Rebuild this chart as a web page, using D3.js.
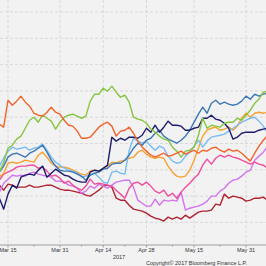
<!DOCTYPE html>
<html>
<head>
<meta charset="utf-8">
<script src="https://cdn.jsdelivr.net/npm/d3@7"></script>
<style>
  html, body { margin: 0; padding: 0; background: #f2f2f2; }
  #wrapper { width: 266px; height: 266px; overflow: hidden; }
</style>
</head>
<body>
<div id="wrapper"></div>
<script>
// trading days, Mar 13 2017 .. Jun 7 2017 (weekdays)
const startDate = new Date(2017, 2, 13)
const endDate = new Date(2017, 5, 8)

const tickDates = ["2017-03-15", "2017-03-31", "2017-04-14", "2017-04-28", "2017-05-15", "2017-05-31"]
const tickLabels = ["Mar 15", "Mar 31", "Apr 14", "Apr 28", "May 15", "May 31"]
const minorTickDates = ["2017-03-23", "2017-04-07", "2017-04-21", "2017-05-08", "2017-05-23"]
const yearLabel = "2017"
const copyright = "Copyright© 2017 Bloomberg Finance L.P."

// % change, one value per trading day
const orangeRed = [-0.53,-0.76,1.29,0.91,1.22,1.60,1.14,0.84,0.30,0.15,0.08,0.38,0.76,0.38,0.23,-0.23,-0.61,-0.68,-1.06,-1.60,-1.60,-1.52,-1.14,-0.76,-0.53,-0.38,-0.68,-1.44,-1.06,-0.99,-0.76,-1.22,-1.82,-2.28,-2.58,-2.89,-3.04,-2.89,-2.74,-2.96,-2.89,-2.74,-2.58,-2.81,-2.66,-2.51,-2.74,-2.51,-2.58,-2.36,-2.28,-2.51,-2.66,-2.43,-2.58,-2.51,-2.74,-3.04,-3.34,-2.74,-2.20,-1.75,-1.37]
const green = [-4.18,-3.42,-2.36,-2.13,-1.67,-1.44,-0.84,-0.23,0,-0.38,0.15,-0.08,-0.30,-0.91,-0.38,0,0.15,0.23,0.08,-0.08,0.08,1.22,1.75,1.75,2.20,1.98,2.36,1.90,1.52,1.67,1.14,0,-0.15,-0.23,-0.46,-0.91,-1.14,-1.44,-1.67,-1.75,-2.28,-2.58,-3.04,-2.58,-2.51,-2.28,-1.37,-0.08,-0.84,-0.61,-0.68,-0.76,-0.46,-0.38,-0.38,-0.08,-0.23,0.15,0.53,1.06,1.37,1.90,1.98]
const navy = [-6.16,-6.99,-5.85,-5.17,-5.40,-4.56,-4.41,-4.33,-4.41,-4.03,-3.72,-4.56,-4.26,-3.95,-4.18,-4.41,-4.48,-4.71,-4.86,-4.94,-4.94,-4.18,-4.03,-4.10,-3.88,-3.65,-1.52,-1.82,-1.60,-1.75,-1.52,-1.52,-1.60,-1.37,-0.84,-1.14,-0.61,-1.14,-0.76,-0.30,-0.61,-0.61,-0.68,-0.99,-0.99,-0.84,-0.76,-0.08,-0.08,0.15,-0.15,-0.23,-0.46,-0.84,-1.67,-1.52,-1.22,-1.14,-1.14,-1.14,-0.99,-0.91,-0.84]
const steelBlue = [-4.18,-3.72,-3.04,-2.81,-2.74,-2.89,-3.04,-2.74,-2.58,-2.36,-2.13,-2.66,-3.27,-3.72,-4.03,-4.10,-4.10,-4.18,-4.33,-4.48,-4.79,-4.41,-4.26,-4.18,-3.95,-3.88,-3.57,-3.50,-3.50,-3.27,-2.89,-2.36,-1.98,-2.13,-1.75,-1.60,-1.22,-0.99,-1.44,-1.67,-1.82,-1.98,-1.75,-1.44,-0.99,-0.38,0.23,0.76,0.30,1.06,1.29,0.99,1.14,0.99,0.91,0.99,1.22,1.60,1.37,1.75,1.60,1.75,1.82]
const lightBlue = [-3.72,-3.12,-2.58,-2.28,-2.43,-2.36,-2.28,-2.51,-2.36,-2.28,-2.05,-2.51,-3.04,-3.42,-3.65,-3.88,-4.03,-4.10,-4.26,-4.56,-4.48,-4.41,-4.26,-4.56,-4.94,-5.02,-4.18,-4.10,-4.26,-4.33,-2.51,-1.60,-1.82,-1.98,-1.82,-2.20,-2.51,-2.20,-2.36,-2.96,-3.34,-3.50,-3.42,-2.96,-2.66,-2.20,-1.75,-2.28,-1.82,-1.52,-1.44,-1.37,-1.29,-1.06,-0.84,-0.61,-0.38,-0.23,-0.08,0,-0.30,-0.68,-1.22]
const lightOrange = [-4.56,-4.26,-3.50,-3.42,-3.50,-3.42,-3.27,-3.34,-3.42,-2.89,-2.66,-3.04,-3.50,-3.72,-3.80,-3.80,-3.88,-4.03,-4.18,-4.33,-4.41,-4.10,-4.03,-4.10,-3.88,-3.72,-3.42,-3.50,-3.34,-3.27,-3.12,-3.04,-2.66,-2.51,-2.81,-3.04,-3.12,-3.04,-3.12,-3.72,-4.18,-4.48,-4.56,-4.48,-4.03,-3.27,-2.36,-1.44,-0.99,-0.84,-0.76,-0.99,-0.91,-0.76,-0.99,-0.68,-0.08,0.30,0,0.30,0.38,0.30,0.38]
const pink = [-4.79,-4.33,-4.18,-4.03,-3.80,-3.72,-3.72,-3.65,-3.65,-3.88,-3.80,-4.10,-4.48,-4.41,-4.64,-5.02,-4.86,-5.17,-5.40,-5.55,-5.24,-4.71,-5.09,-5.02,-5.09,-5.17,-5.24,-5.55,-5.85,-6.16,-5.40,-5.02,-4.94,-5.17,-4.94,-5.24,-5.62,-5.78,-5.55,-6.00,-5.78,-6.16,-5.70,-5.32,-5.02,-4.64,-4.33,-3.65,-3.19,-3.57,-3.12,-2.89,-3.04,-2.89,-3.04,-3.12,-3.27,-3.42,-3.57,-3.42,-3.57,-3.65,-3.88]
const violet = [-5.70,-5.02,-4.71,-4.41,-4.48,-4.41,-4.48,-4.26,-4.18,-4.33,-4.41,-4.48,-4.56,-4.86,-4.86,-4.94,-5.17,-5.24,-5.40,-5.78,-5.62,-5.24,-5.40,-5.09,-5.24,-5.40,-5.17,-4.94,-4.86,-4.79,-4.79,-5.32,-6.31,-6.54,-6.76,-6.76,-6.23,-6.69,-6.31,-6.38,-6.31,-6.38,-5.70,-7.07,-6.92,-6.84,-6.76,-6.61,-6.38,-6.00,-6.00,-5.62,-5.40,-5.02,-4.79,-4.71,-4.48,-4.18,-4.03,-3.27,-2.96,-2.66,-2.20]
const darkRed = [-5.17,-5.55,-5.09,-5.17,-5.32,-5.32,-5.32,-5.17,-5.32,-5.32,-5.24,-5.17,-5.17,-5.32,-5.47,-5.55,-5.55,-5.62,-5.70,-5.78,-5.93,-6.00,-5.78,-5.55,-5.24,-5.17,-5.32,-6.16,-6.31,-6.31,-6.69,-6.99,-7.07,-7.14,-7.30,-7.52,-7.68,-7.75,-7.90,-7.60,-7.75,-7.60,-7.75,-7.45,-7.68,-7.45,-7.22,-7.14,-7.14,-7.07,-6.61,-6.69,-5.85,-6.16,-6.00,-6.08,-6.16,-6.38,-6.31,-6.16,-6.16,-6.08,-6.31]

function drawChart() {
  const dates = d3.timeDays(startDate, endDate).filter(d => d.getDay() % 6 !== 0)
  const parse = d3.timeParse("%Y-%m-%d")
  const dateIndex = s => dates.findIndex(d => +d === +parse(s))

  const series = [
    { values: darkRed, color: "#b02232" },
    { values: violet, color: "#d472ee" },
    { values: pink, color: "#ef4c9c" },
    { values: lightOrange, color: "#f7a130" },
    { values: lightBlue, color: "#78bcf2" },
    { values: steelBlue, color: "#3d78b4" },
    { values: navy, color: "#1c1c6c" },
    { values: green, color: "#86c540" },
    { values: orangeRed, color: "#f0642a" },
  ]

  let dimensions = {
    width: 266,
    height: 266,
    axisY: 245,
  }

  const svg = d3.select("#wrapper")
    .append("svg")
      .attr("width", dimensions.width)
      .attr("height", dimensions.height)
      .style("font-family", "'Liberation Sans', sans-serif")

  svg.append("rect")
    .attr("width", dimensions.width)
    .attr("height", dimensions.height)
    .attr("fill", "#f2f2f2")

  // scales
  const xScale = d3.scaleLinear()
    .domain([dateIndex(tickDates[0]), dateIndex(tickDates[tickDates.length - 1])])
    .range([8, 246])

  const yScale = d3.scaleLinear()
    .domain([-8, 8])
    .range([222.4, 12])

  // grid
  const grid = svg.append("g")
    .attr("stroke", "#d2d2d2")
    .attr("stroke-width", 0.8)
    .attr("stroke-dasharray", "3,2")

  grid.selectAll(".hgrid")
    .data(yScale.ticks(8))
    .join("line")
      .attr("x1", 0)
      .attr("x2", dimensions.width)
      .attr("y1", d => yScale(d))
      .attr("y2", d => yScale(d))

  grid.selectAll(".vgrid")
    .data(tickDates)
    .join("line")
      .attr("x1", d => xScale(dateIndex(d)))
      .attr("x2", d => xScale(dateIndex(d)))
      .attr("y1", 0)
      .attr("y2", dimensions.axisY)

  // lines
  svg.append("clipPath")
      .attr("id", "plot-clip")
    .append("rect")
      .attr("width", dimensions.width)
      .attr("height", dimensions.axisY)

  const lineGenerator = d3.line()
    .x((d, i) => xScale(i))
    .y(d => yScale(d))

  svg.append("g")
      .attr("clip-path", "url(#plot-clip)")
    .selectAll("path")
    .data(series)
    .join("path")
      .attr("d", d => lineGenerator(d.values))
      .attr("fill", "none")
      .attr("stroke", d => d.color)
      .attr("stroke-width", 1.4)
      .attr("stroke-linejoin", "round")

  // x axis
  const axis = svg.append("g")
    .attr("transform", `translate(0, ${dimensions.axisY})`)

  axis.append("line")
    .attr("x1", 0)
    .attr("x2", dimensions.width)
    .attr("stroke", "#8a8a8a")
    .attr("stroke-width", 0.8)

  axis.selectAll(".major")
    .data(tickDates)
    .join("line")
      .attr("x1", d => xScale(dateIndex(d)))
      .attr("x2", d => xScale(dateIndex(d)))
      .attr("y1", 0)
      .attr("y2", 2.5)
      .attr("stroke", "#8a8a8a")
      .attr("stroke-width", 0.8)

  axis.selectAll(".minor")
    .data(minorTickDates)
    .join("line")
      .attr("x1", d => xScale(dateIndex(d)))
      .attr("x2", d => xScale(dateIndex(d)))
      .attr("y1", 0)
      .attr("y2", 1.5)
      .attr("stroke", "#8a8a8a")
      .attr("stroke-width", 0.8)

  axis.selectAll("text")
    .data(tickDates)
    .join("text")
      .attr("x", d => xScale(dateIndex(d)))
      .attr("y", 6.8)
      .text((d, i) => tickLabels[i])
      .attr("text-anchor", "middle")
      .attr("fill", "#333")
      .style("font-size", "5.5px")

  svg.append("text")
    .attr("x", 119)
    .attr("y", 259.3)
    .text(yearLabel)
    .attr("text-anchor", "middle")
    .attr("fill", "#333")
    .style("font-size", "5.5px")

  svg.append("text")
    .attr("x", 196.5)
    .attr("y", 265)
    .text(copyright)
    .attr("text-anchor", "middle")
    .attr("fill", "#333")
    .style("font-size", "5.5px")
}

drawChart()
</script>
</body>
</html>
